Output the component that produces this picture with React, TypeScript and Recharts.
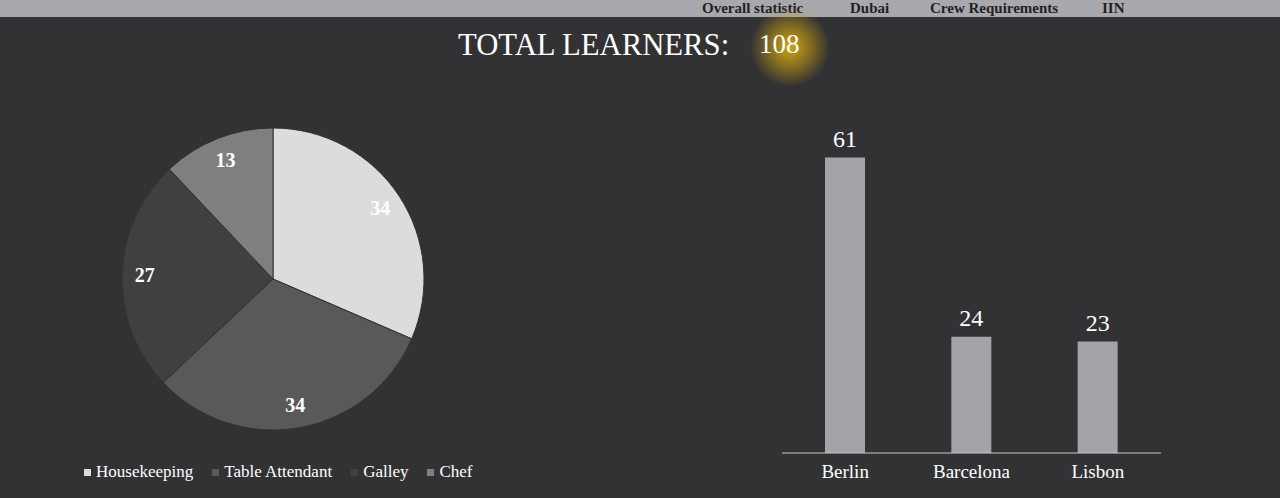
import React from 'react';
import { PieChart, Pie, Cell, Legend, BarChart, Bar, XAxis, YAxis, LabelList } from 'recharts';

const roles = ['Housekeeping', 'Table Attendant', 'Galley', 'Chef'];
const roleCounts = [34, 34, 27, 13];
const roleColors = ['#dcdcdc', '#595959', '#404040', '#7f7f7f'];

const cities = ['Berlin', 'Barcelona', 'Lisbon'];
const cityCounts = [61, 24, 23];

const navItems = ['Overall statistic', 'Dubai', 'Crew Requirements', 'IIN'];
const navX = [702, 850, 930, 1102];

const totalLearners = 108;

const pieData = roles.map((name, i) => ({ name, value: roleCounts[i] }));
const barData = cities.map((city, i) => ({ city, value: cityCounts[i] }));

const SERIF = '"Liberation Serif", "DejaVu Serif", serif';
const BG = '#323234';
const RADIAN = Math.PI / 180;

const pieLabel = (p: any) => {
  const r = p.outerRadius * 0.85;
  const x = p.cx + r * Math.cos(-p.midAngle * RADIAN);
  const y = p.cy + r * Math.sin(-p.midAngle * RADIAN);
  return (
    <text x={x} y={y} fill="#fff" fontFamily={SERIF} fontSize={20} fontWeight="bold"
      textAnchor="middle" dominantBaseline="central">{p.value}</text>
  );
};

// keep the legend in data order (recharts sorts it by name otherwise)
const legendContent = () => (
  <div style={{ display: 'flex', fontFamily: SERIF, fontSize: 17, color: '#fff' }}>
    {roles.map((r, i) => (
      <div key={r} style={{ display: 'flex', alignItems: 'center', marginRight: 19 }}>
        <span style={{ width: 7, height: 7, background: roleColors[i], marginRight: 5, display: 'inline-block' }} />
        {r}
      </div>
    ))}
  </div>
);

export default function App() {
  return (
    <div style={{ position: 'absolute', left: 0, top: 0, width: 1280, height: 498, background: BG, overflow: 'hidden' }}>
      <div style={{ position: 'absolute', left: 0, top: 0, width: 1280, height: 17, background: '#a9a8ad' }}>
        {navItems.map((t, i) => (
          <span key={t} style={{ position: 'absolute', left: navX[i], top: 0, fontFamily: SERIF, fontWeight: 'bold', fontSize: 15, lineHeight: '17px', color: '#222', whiteSpace: 'nowrap' }}>{t}</span>
        ))}
      </div>
      <div style={{ position: 'absolute', left: 750, top: 7, width: 80, height: 80, borderRadius: '50%',
        background: 'radial-gradient(circle, rgba(214,170,20,0.95) 0%, rgba(190,150,20,0.6) 35%, rgba(50,50,52,0) 70%)' }} />
      <div style={{ position: 'absolute', left: 458, top: 28, fontFamily: SERIF, fontSize: 30.7, color: '#fff', whiteSpace: 'nowrap' }}>TOTAL LEARNERS:</div>
      <div style={{ position: 'absolute', left: 759, top: 29, fontFamily: SERIF, fontSize: 27, color: '#fff' }}>{totalLearners}</div>

      <div style={{ position: 'absolute', left: 0, top: 0 }}>
        <PieChart width={560} height={498} margin={{ top: 0, right: 0, bottom: 0, left: 0 }}>
          <Pie data={pieData} dataKey="value" nameKey="name" cx={273} cy={279} outerRadius={151}
            startAngle={90} endAngle={-270} stroke="#333" strokeWidth={1}
            label={pieLabel} labelLine={false} isAnimationActive={false}>
            {pieData.map((d, i) => <Cell key={d.name} fill={roleColors[i]} />)}
          </Pie>
          <Legend content={legendContent} wrapperStyle={{ left: 84, top: 462, width: 470 }} />
        </PieChart>
      </div>

      <div style={{ position: 'absolute', left: 700, top: 0 }}>
        <BarChart width={500} height={498} data={barData} margin={{ top: 114, right: 39, bottom: 15, left: 82 }}>
          <XAxis dataKey="city" height={30} tickLine={false} axisLine={{ stroke: '#c8c8c8' }}
            tick={{ fill: '#fff', fontFamily: SERIF, fontSize: 19 }} tickMargin={6} />
          <YAxis hide domain={[0, 70]} />
          <Bar dataKey="value" fill="#a4a3a8" barSize={40} isAnimationActive={false}>
            <LabelList dataKey="value" position="top" offset={11} fill="#fff" fontFamily={SERIF} fontSize={24} />
          </Bar>
        </BarChart>
      </div>
    </div>
  );
}
